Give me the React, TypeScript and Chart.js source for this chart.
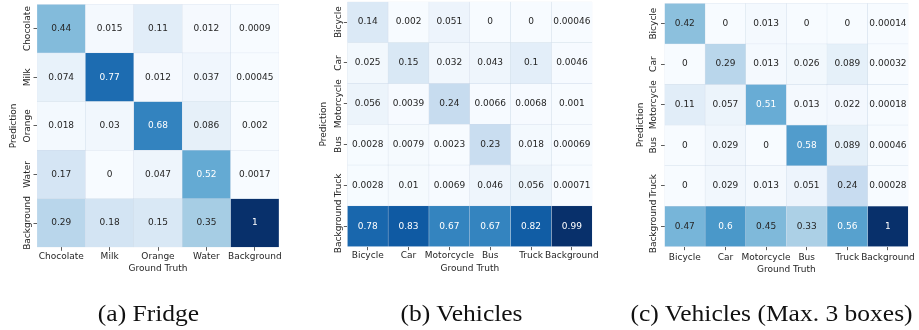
import React, { useEffect, useRef } from "react";
import { Chart, registerables } from "chart.js";

Chart.register(...registerables);

// ---- data ----
const fridgeClasses = ["Chocolate", "Milk", "Orange", "Water", "Background"];
const fridgeMatrix = [
  [0.44, 0.015, 0.11, 0.012, 0.0009],
  [0.074, 0.77, 0.012, 0.037, 0.00045],
  [0.018, 0.03, 0.68, 0.086, 0.002],
  [0.17, 0, 0.047, 0.52, 0.0017],
  [0.29, 0.18, 0.15, 0.35, 1],
];

const vehicleClasses = ["Bicycle", "Car", "Motorcycle", "Bus", "Truck", "Background"];
const vehiclesMatrix = [
  [0.14, 0.002, 0.051, 0, 0, 0.00046],
  [0.025, 0.15, 0.032, 0.043, 0.1, 0.0046],
  [0.056, 0.0039, 0.24, 0.0066, 0.0068, 0.001],
  [0.0028, 0.0079, 0.0023, 0.23, 0.018, 0.00069],
  [0.0028, 0.01, 0.0069, 0.046, 0.056, 0.00071],
  [0.78, 0.83, 0.67, 0.67, 0.82, 0.99],
];
const vehiclesMax3Matrix = [
  [0.42, 0, 0.013, 0, 0, 0.00014],
  [0, 0.29, 0.013, 0.026, 0.089, 0.00032],
  [0.11, 0.057, 0.51, 0.013, 0.022, 0.00018],
  [0, 0.029, 0, 0.58, 0.089, 0.00046],
  [0, 0.029, 0.013, 0.051, 0.24, 0.00028],
  [0.47, 0.6, 0.45, 0.33, 0.56, 1],
];

const xTitle = "Ground Truth";
const yTitle = "Prediction";
const captions = ["(a) Fridge", "(b) Vehicles", "(c) Vehicles (Max. 3 boxes)"];

// ---- styling ----
const FONT = "'DejaVu Sans', sans-serif";
const TEXT_DARK = "#262626";
const BLUES = ["#f7fbff", "#deebf7", "#c6dbef", "#9ecae1", "#6baed6", "#4292c6", "#2171b5", "#08519c", "#08306b"];
const CANVAS_H = 280;

type Panel = {
  rows: string[];
  cols: string[];
  matrix: number[][];
  left: number;
  width: number;
  axisW: number; // y-axis box width
  padTop: number;
  padRight: number;
  axisH: number; // x-axis box height
  yLabelGap: number; // distance from tick end to rotated label centre
  yTitlePad: number;
  xLabelPad: number;
  xTitlePad: number;
  captionX: number;
  caption: string;
};

const PANELS: Panel[] = [
  {
    rows: fridgeClasses, cols: fridgeClasses, matrix: fridgeMatrix,
    left: 0, width: 300, axisW: 37, padTop: 4.3, padRight: 21, axisH: 32.7,
    yLabelGap: 5.5, yTitlePad: 8.6, xLabelPad: 0.3, xTitlePad: 5.6,
    captionX: 148.5, caption: captions[0],
  },
  {
    rows: vehicleClasses, cols: vehicleClasses, matrix: vehiclesMatrix,
    left: 310, width: 300, axisW: 37.3, padTop: 1.7, padRight: 17.7, axisH: 33.3,
    yLabelGap: 5.5, yTitlePad: 8.6, xLabelPad: 0.4, xTitlePad: 5.6,
    captionX: 461.5, caption: captions[1],
  },
  {
    rows: vehicleClasses, cols: vehicleClasses, matrix: vehiclesMax3Matrix,
    left: 620, width: 299, axisW: 44.5, padTop: 3.3, padRight: 10.7, axisH: 33.3,
    yLabelGap: 7.7, yTitlePad: 15.3, xLabelPad: 2, xTitlePad: 4.6,
    captionX: 771.5, caption: captions[2],
  },
];

function hexToRgb(h: string): number[] {
  return [1, 3, 5].map((i) => parseInt(h.slice(i, i + 2), 16));
}

function blues(t: number): number[] {
  const s = Math.min(Math.max(t, 0), 1) * (BLUES.length - 1);
  const i = Math.min(Math.floor(s), BLUES.length - 2);
  const f = s - i;
  const a = hexToRgb(BLUES[i]);
  const b = hexToRgb(BLUES[i + 1]);
  return a.map((v, k) => Math.round(v + (b[k] - v) * f));
}

function luminance(rgb: number[]): number {
  const lin = rgb.map((c) => {
    const v = c / 255;
    return v <= 0.03928 ? v / 12.92 : Math.pow((v + 0.055) / 1.055, 2.4);
  });
  return 0.2126 * lin[0] + 0.7152 * lin[1] + 0.0722 * lin[2];
}

function fmt(v: number): string {
  return v === 0 ? "0" : String(Number(v.toPrecision(2)));
}

function widestLabel(labels: string[]): number {
  const ctx = document.createElement("canvas").getContext("2d")!;
  ctx.font = `9px ${FONT}`;
  return Math.max(...labels.map((l) => ctx.measureText(l).width));
}

function Heatmap({ p }: { p: Panel }) {
  const ref = useRef<HTMLCanvasElement>(null);

  useEffect(() => {
    const flat = p.matrix.flat();
    const vmin = Math.min(...flat);
    const vmax = Math.max(...flat);
    const colors = p.matrix.map((row) => row.map((v) => blues((v - vmin) / (vmax - vmin))));
    const n = p.rows.length;
    const widest = widestLabel(p.rows);
    const tickFont = { family: FONT, size: 9 };

    const cellText = {
      id: "cellText",
      afterDatasetsDraw(chart: any) {
        const ctx = chart.ctx;
        ctx.save();
        ctx.font = `9px ${FONT}`;
        ctx.textAlign = "center";
        ctx.textBaseline = "middle";
        p.matrix.forEach((row, r) => {
          const meta = chart.getDatasetMeta(r);
          row.forEach((v, c) => {
            const el = meta.data[c];
            if (!el) return;
            const { x, y } = el.getCenterPoint();
            ctx.fillStyle = luminance(colors[r][c]) > 0.408 ? TEXT_DARK : "#ffffff";
            ctx.fillText(fmt(v), x, y);
          });
        });
        ctx.restore();
      },
    };

    const chart = new Chart(ref.current!, {
      type: "bar",
      data: {
        labels: p.cols,
        datasets: p.matrix.map((row, r) => ({
          label: p.rows[r],
          data: row.map(() => [r, r + 1]),
          backgroundColor: colors[r].map((c) => `rgb(${c[0]},${c[1]},${c[2]})`),
          borderColor: "rgba(190,205,225,0.55)",
          borderWidth: 0.5,
          borderSkipped: false,
          barPercentage: 1,
          categoryPercentage: 1,
          grouped: false,
        })) as any,
      },
      options: {
        animation: false,
        responsive: false,
        devicePixelRatio: 1,
        layout: { padding: { left: 0, top: p.padTop, right: p.padRight, bottom: 0 } },
        plugins: { legend: { display: false }, tooltip: { enabled: false } },
        scales: {
          x: {
            type: "category",
            offset: true,
            grid: {
              display: true,
              drawOnChartArea: false,
              offset: false,
              tickLength: 3.5,
              tickColor: "#333333",
              tickWidth: 0.8,
            },
            border: { display: false },
            ticks: {
              autoSkip: false,
              minRotation: 0,
              maxRotation: 0,
              padding: p.xLabelPad,
              color: TEXT_DARK,
              font: tickFont,
            },
            title: {
              display: true,
              text: xTitle,
              color: TEXT_DARK,
              font: tickFont,
              padding: { top: 0, bottom: p.xTitlePad },
            },
            afterFit: (s: any) => {
              s.height = p.axisH;
            },
          },
          y: {
            type: "linear",
            min: 0,
            max: n,
            reverse: true,
            afterBuildTicks: (s: any) => {
              s.ticks = p.rows.map((_, i) => ({ value: i + 0.5 }));
            },
            grid: {
              display: true,
              drawOnChartArea: false,
              tickLength: 3.5,
              tickColor: "#333333",
              tickWidth: 0.8,
            },
            border: { display: false },
            ticks: {
              autoSkip: false,
              minRotation: 90,
              maxRotation: 90,
              crossAlign: "center",
              padding: p.yLabelGap - widest / 2,
              color: TEXT_DARK,
              font: tickFont,
              callback: (_v: any, i: number) => p.rows[i],
            },
            title: {
              display: true,
              text: yTitle,
              color: TEXT_DARK,
              font: tickFont,
              padding: { top: p.yTitlePad, bottom: 0 },
            },
            afterFit: (s: any) => {
              s.width = p.axisW;
            },
          },
        },
      } as any,
      plugins: [cellText],
    });
    return () => chart.destroy();
  }, [p]);

  return (
    <canvas
      ref={ref}
      width={p.width}
      height={CANVAS_H}
      style={{ position: "absolute", left: p.left, top: 0, width: p.width, height: CANVAS_H }}
    />
  );
}

export default function App() {
  return (
    <div style={{ position: "absolute", left: 0, top: 0, width: 919, height: 330, background: "#ffffff", overflow: "hidden" }}>
      {PANELS.map((p, i) => (
        <Heatmap key={i} p={p} />
      ))}
      <svg width={919} height={330} style={{ position: "absolute", left: 0, top: 0 }}>
        {PANELS.map((p, i) => (
          <text
            key={i}
            transform={`translate(${p.captionX} 320.5) scale(1.11 1)`}
            textAnchor="middle"
            fontFamily="'Liberation Serif', 'Times New Roman', serif"
            fontSize={23}
            fill="#111111"
          >
            {p.caption}
          </text>
        ))}
      </svg>
    </div>
  );
}
